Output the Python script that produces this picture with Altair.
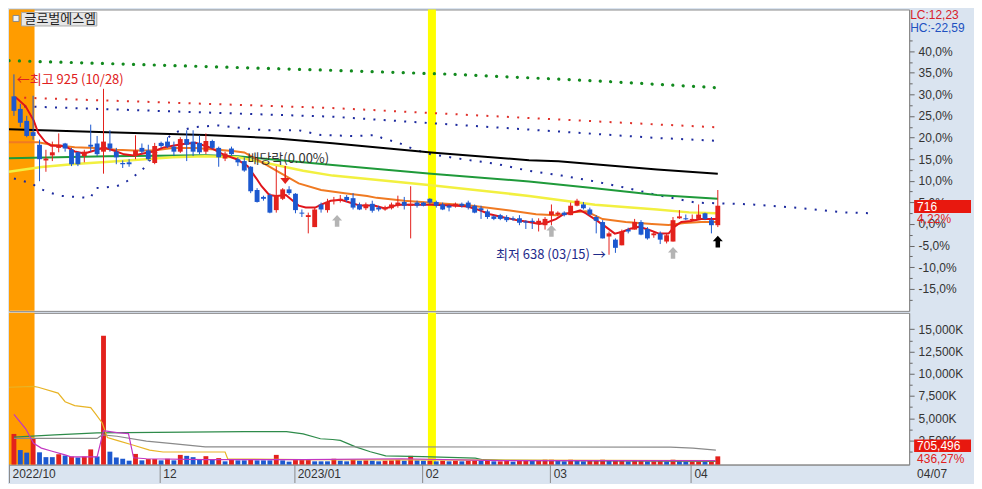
import altair as alt
import pandas as pd

# ---------------- layout ----------------
W, H1, H2 = 902, 302, 152
XS, YE = 18, 64
BASE = 687
X_DOM = [-0.77, 139.9]
P_DOM = [548.7, 1028.2]
V_DOM = [-217, 16848]
RED, BLUE = "#e3211c", "#1c58cf"
KR = "Noto Sans CJK KR"
LAT = "Liberation Sans"

# ---------------- data ----------------
opens = [890, 870, 851, 833, 813, 788, 796, 808, 815, 805,
         801, 795, 813, 815, 802, 815, 802, 784, 785, 795,
         808, 804, 784, 816, 818, 810, 802, 822, 818, 816,
         802, 819, 808, 791, 807, 790, 787, 778, 741, 730,
         733, 709, 727, 742, 735, 705, 698, 682, 718, 709,
         724, 725, 730, 728, 718, 712, 719, 713, 710, 712,
         716, 722, 716, 721, 721, 727, 722, 718, 716, 715,
         719, 721, 716, 712, 707, 699, 701, 698, 696, 696,
         691, 692, 687, 685, 701, 702, 705, 701, 716, 718,
         710, 698, 690, 667, 662, 653, 678, 678, 690, 679,
         669, 672, 659, 659, 696, 696, 693, 695, 704, 693,
         685]
highs = [925, 878, 859, 891, 821, 805, 818, 831, 816, 808,
         802, 805, 845, 827, 902, 836, 808, 788, 790, 828,
         815, 813, 816, 818, 825, 818, 825, 836, 836, 828,
         831, 821, 810, 802, 810, 793, 793, 779, 744, 732,
         736, 779, 744, 747, 736, 710, 705, 713, 721, 727,
         730, 733, 733, 736, 721, 721, 724, 716, 716, 721,
         732, 730, 747, 724, 722, 728, 724, 721, 718, 721,
         721, 724, 718, 716, 710, 701, 703, 701, 699, 701,
         693, 696, 696, 698, 718, 707, 707, 721, 727, 722,
         713, 701, 693, 675, 664, 678, 681, 695, 693, 682,
         675, 675, 672, 698, 709, 702, 702, 718, 705, 698,
         741]
lows = [859, 841, 825, 821, 755, 770, 787, 801, 802, 779,
        779, 785, 802, 795, 767, 802, 782, 776, 778, 790,
        799, 787, 782, 808, 808, 795, 800, 787, 795, 798,
        798, 806, 778, 787, 796, 779, 770, 736, 721, 724,
        704, 705, 725, 733, 704, 698, 672, 682, 705, 705,
        718, 721, 722, 710, 709, 709, 705, 707, 708, 710,
        713, 710, 664, 713, 715, 718, 713, 709, 707, 713,
        713, 710, 704, 695, 695, 693, 693, 690, 692, 685,
        679, 679, 675, 678, 685, 699, 699, 701, 715, 710,
        700, 672, 664, 638, 641, 653, 672, 678, 669, 662,
        665, 655, 656, 659, 695, 693, 692, 695, 693, 672,
        682]
closes = [867, 848, 827, 827, 790, 791, 801, 813, 807, 782,
          782, 802, 810, 798, 818, 807, 793, 782, 782, 804,
          802, 790, 811, 811, 810, 802, 822, 813, 802, 801,
          819, 808, 793, 799, 798, 785, 772, 739, 722, 727,
          705, 733, 742, 736, 709, 704, 701, 710, 710, 722,
          725, 727, 725, 713, 710, 718, 708, 710, 713, 718,
          721, 716, 719, 716, 716, 721, 716, 710, 713, 719,
          716, 713, 705, 709, 698, 695, 695, 693, 694, 689,
          689, 690, 692, 695, 707, 705, 701, 716, 724, 712,
          702, 692, 664, 672, 649, 675, 675, 690, 670, 664,
          672, 662, 669, 693, 699, 695, 695, 702, 695, 685,
          716]
volumes = [3225, 1413, 1123, 2754, 1160, 616, 616, 942, 797, 688,
           580, 688, 1486, 688, 14272, 1232, 580, 435, 217, 978,
           253, 399, 399, 253, 435, 253, 870, 761, 616, 399,
           725, 399, 507, 145, 326, 253, 253, 399, 253, 253,
           253, 870, 253, 109, 326, 326, 399, 145, 145, 145,
           435, 217, 145, 326, 217, 253, 217, 145, 217, 253,
           326, 217, 760, 253, 217, 217, 145, 217, 145, 217,
           145, 217, 253, 217, 253, 145, 145, 217, 109, 217,
           253, 217, 253, 326, 326, 253, 145, 326, 253, 145,
           217, 253, 326, 217, 253, 253, 145, 217, 217, 145,
           145, 217, 145, 326, 217, 145, 145, 253, 217, 253,
           705]
vol_up_first = ["up", "down", "down", "up", "down", "down", "down", "up", "down", "up",
                "down", "up", "up", "down", "up", "down", "down", "down", "down", "up",
                "down", "up", "up", "down", "up", "down", "up", "down", "down", "down",
                "up", "down", "up", "down", "up", "down", "down", "up", "down", "down",
                "down", "up", "down", "down", "up", "up", "up", "down", "down", "down",
                "up"]

# moving-average / envelope lines: (day index, price)
ma5 = [(0.3, 888), (1.8, 874.5), (3.1, 851.5), (3.8, 831.5), (4.9, 817.6), (5.8, 811.5), (7.4, 811.5),
       (8.4, 808.4), (9.5, 802.3), (11.0, 799.2), (12.6, 803.8), (14.1, 808.4), (15.6, 803.8), (17.2, 797.7),
       (18.7, 796.1), (20.2, 799.2), (21.8, 802.3), (23.3, 808.4), (24.8, 811.5), (26.8, 814.6), (28.4, 816.1),
       (30.7, 808.4), (32.7, 797.7), (34.8, 790.0), (36.5, 779.2), (37.9, 759.2), (38.7, 747.0), (39.9, 733.1),
       (41.0, 731.6), (42.5, 733.1), (43.4, 725.4), (44.5, 716.2), (45.6, 713.1), (47.1, 713.1), (48.0, 717.7),
       (49.5, 723.9), (51.1, 725.4), (52.6, 720.8), (54.1, 716.2), (56.3, 716.2), (58.0, 711.6), (60.1, 717.7),
       (62.1, 717.7), (65.2, 717.7), (68.7, 716.2), (70.9, 714.7), (72.4, 710.1), (74.4, 702.4), (76.4, 697.8),
       (78.5, 693.1), (80.5, 690.1), (82.1, 687), (83.1, 688.5), (84.7, 694.7), (85.9, 702.4), (87.4, 705.4),
       (88.5, 708.5), (89.4, 703.9), (91.0, 693.1), (92.5, 682.4), (93.9, 671.6), (95.1, 674.7), (96.3, 679.3),
       (97.7, 682.4), (99.2, 677.8), (100.8, 671.6), (102.3, 671.6), (103.2, 682.4), (104.3, 690.1),
       (105.8, 691.6), (107.4, 694.7), (108.9, 694.7), (110, 694.7)]
ma20 = [(-0.77, 817), (3.8, 817), (5.8, 813), (9.5, 809), (12.6, 808), (16.1, 805), (18.7, 804), (21.8, 804),
        (24.8, 808), (28.4, 808), (34.2, 803), (36.0, 800.7), (37.9, 790), (41.0, 772), (44.5, 751.6),
        (48.0, 741), (51.7, 736), (55.2, 731.6), (56.7, 728.5), (61.0, 723.9), (71.3, 716.2), (77.5, 708.5),
        (81.6, 702.4), (84.7, 700.8), (87.4, 705.4), (89.4, 707), (92.0, 694.7), (95.6, 690.1), (99.7, 687),
        (102.3, 685.5), (104.8, 688.5), (107.4, 690.1), (110, 690.1)]
ma60 = [(-0.77, 770), (4.3, 777.7), (9.5, 782.3), (16.1, 786.9), (24.8, 793.1), (29.9, 794.6), (35.0, 793.1),
        (40.2, 782.3), (45.2, 771.5), (49.8, 763.9), (65.2, 748.5), (80.5, 731.6), (90.8, 717.7),
        (100.5, 710.1), (105.5, 705.4), (109.7, 703.9)]
ma120 = [(-0.77, 791.5), (14.6, 794.6), (29.9, 796.1), (35.0, 794.6), (49.8, 780.8), (65.2, 766.9),
         (80.5, 754.6), (90.8, 743.9), (100.5, 733.1), (110, 727)]
ma240 = [(-0.77, 837.6), (14.6, 833), (29.9, 828.4), (40.2, 823.8), (49.8, 815.3), (65.2, 800.7),
         (80.5, 788.4), (85.1, 786.9), (100.5, 773.8), (110, 766.9)]
dot_green = [(-0.77, 946.8), (49.8, 931.4), (68.3, 925.2), (91.3, 914.4), (110, 903.7)]
dot_red = [(0, 888.3), (49.8, 871.4), (100.5, 845.3), (110, 840.7)]
dot_blue_up = [(0, 874.5), (49.8, 857.6), (100.5, 823.8), (110, 819.2)]
dot_blue_lo = [(0, 759.2), (2.8, 751.6), (3.8, 743.9), (5.8, 736.2), (7.4, 731.6), (11.5, 728.5), (12.0, 728.5),
               (12.7, 743.9), (16.1, 747.0), (17.6, 754.6), (18.7, 762.3), (20.2, 774.6), (22.2, 800.7),
               (23.8, 820.7), (24.8, 831.5), (27.9, 840.7), (31.9, 843.8), (36.0, 839.2), (39.1, 836.1),
               (44.5, 836.1), (48.0, 828.4), (53.2, 826.9), (56.7, 828.4), (57.5, 823.8), (60.1, 816.1),
               (62.6, 805.3), (65.2, 797.7), (70.2, 790.0), (75.5, 782.3), (80.5, 771.5), (85.6, 763.9),
               (90.8, 754.6), (95.9, 743.9), (100.5, 733.1), (106.6, 720.8), (112.3, 719.3), (115.8, 717.7),
               (121.9, 713.1), (129.6, 705.4), (134.2, 703.9)]

# volume moving averages (day index, K shares)
vma_mag = [(0, 5435), (1.84, 3805), (3.07, 2174), (4.29, 1631), (5.83, 1304), (7.98, 870), (8.9, 652),
           (13, 652), (14, 3587), (16.1, 3370), (17.9, 3261), (18.7, 544), (20.7, 435), (29.9, 326),
           (45.2, 326), (60.6, 435), (75.9, 217), (91.3, 217), (109.7, 217)]
vma_yel = [(-0.77, 8479), (3.07, 8587), (3.8, 8479), (6.9, 7826), (8.0, 6848), (9.5, 6413), (12.0, 6196),
           (12.7, 5544), (13.8, 4457), (14.6, 2826), (16.1, 2500), (18.7, 1957), (21.2, 1413), (23.3, 1196),
           (33.0, 1196), (33.4, 435), (45.2, 326), (109.7, 217)]
vma_gray = [(0, 2718), (13, 2718), (13.8, 3120), (16.1, 2967), (20.7, 2424), (24.8, 2141), (29.9, 1772),
            (49.8, 1772), (102.6, 1739), (106.1, 1631), (109.7, 1413)]
vma_green = [(0, 2859), (6.4, 3120), (13, 3337), (36, 3478), (42.6, 3478), (45.2, 3228), (47.9, 2685),
             (49.8, 2600), (51.0, 2500), (53.4, 1772), (55.7, 1228), (58.1, 761), (63.9, 685), (72.1, 511),
             (73.3, 326), (76.8, 250), (109.7, 141)]

month_idx = [-0.77, 22.8, 43.8, 63.8, 83.8, 105.8]
month_labels = ["2022/10", "12", "2023/01", "02", "03", "04"]
pct_ticks = [k / 2 for k in range(-35, 86, 5)]
vol_ticks = [1250 * k for k in range(1, 13)]

# ---------------- frames ----------------
n = len(opens)
cd = pd.DataFrame({"i": list(range(n)), "o": opens, "h": highs, "l": lows, "c": closes})
cd["dir"] = ["up" if c >= o else "down" for o, c in zip(opens, closes)]
cd["top"] = cd[["o", "c"]].max(axis=1)
cd["bot"] = cd[["o", "c"]].min(axis=1)
cd.loc[cd["top"] - cd["bot"] < 1.6, "bot"] = cd["top"] - 1.6
cd["xl"] = cd["i"] - 0.38
cd["xr"] = cd["i"] + 0.38

vdirs = list(vol_up_first)
for k in range(len(vol_up_first), n):
    vdirs.append("up" if volumes[k] >= volumes[k - 1] else "down")
vd = pd.DataFrame({"i": list(range(n)), "v": volumes, "dir": vdirs})
vd["xl"] = vd["i"] - 0.38
vd["xr"] = vd["i"] + 0.38

XSC = alt.Scale(domain=X_DOM, nice=False, zero=False)
PSC = alt.Scale(domain=P_DOM, nice=False, zero=False)
VSC = alt.Scale(domain=V_DOM, nice=False, zero=False)
CSC = alt.Scale(domain=["up", "down"], range=[RED, BLUE])

P = f"((datum.value/{BASE}-1)*100)"
MAJ = f"abs({P}/5 - round({P}/5)) < 0.01"
PRICE_AX = alt.Axis(
    orient="right", values=[BASE * (1 + t / 100) for t in pct_ticks], title=None, grid=False,
    labelExpr=f"{MAJ} ? (({P}) < -0.01 ? '-' : '') + abs(round({P})) + ',0%' : ''",
    tickSize={"condition": {"test": MAJ, "value": 5}, "value": 3},
    minExtent=YE, maxExtent=YE, labelPadding=4, labelOverlap=False, labelFlush=False,
    labelBound=False, labelFont=LAT, labelFontSize=12, labelColor="#333333", domainColor="#8a8a8a",
    tickColor="#666666")
VOL_AX = alt.Axis(
    orient="right", values=vol_ticks, title=None, grid=False,
    labelExpr="datum.value % 2500 == 0 ? format(datum.value, ',') + 'K' : ''",
    tickSize={"condition": {"test": "datum.value % 2500 == 0", "value": 5}, "value": 3},
    minExtent=YE, maxExtent=YE, labelPadding=4, labelOverlap=False, labelFlush=False,
    labelBound=False, labelFont=LAT, labelFontSize=12, labelColor="#333333", domainColor="#8a8a8a",
    tickColor="#666666")
mid = [(month_idx[k] + month_idx[k + 1]) / 2 for k in range(len(month_idx) - 1)]
expr = f"'{month_labels[-1]}'"
for k in range(len(mid) - 1, -1, -1):
    expr = f"datum.value < {mid[k]} ? '{month_labels[k]}' : ({expr})"
DATE_AX = alt.Axis(
    orient="bottom", values=month_idx, title=None, grid=False, labelExpr=expr,
    tickSize=XS, tickColor="#8a8a8a", domainColor="#8a8a8a", labelAlign="left", labelBaseline="middle",
    labelPadding=-XS / 2, labelOffset=3, minExtent=XS, maxExtent=XS, labelOverlap=False,
    labelFlush=False, labelBound=False, labelFont=LAT, labelFontSize=12, labelColor="#333333")


def X(field, xax):
    return alt.X(f"{field}:Q", scale=XSC, axis=xax)


def Y(field, scale, yax):
    return alt.Y(f"{field}:Q", scale=scale, axis=yax)


def line(pairs, color, width, scale, yax, xax, dash=None, cap="butt"):
    kw = dict(color=color, strokeWidth=width, strokeCap=cap, clip=True)
    if dash:
        kw["strokeDash"] = dash
    df = pd.DataFrame(pairs, columns=["i", "v"])
    return alt.Chart(df).mark_line(**kw).encode(x=X("i", xax), y=Y("v", scale, yax))


def band(x0, x1, color, h, xax):
    df = pd.DataFrame({"a": [x0], "b": [x1]})
    return alt.Chart(df).mark_rect(color=color).encode(
        x=X("a", xax), x2="b:Q", y=alt.value(0), y2=alt.value(h))


def ptext(txt, x, y, color, size=12, font=LAT, align="left"):
    df = pd.DataFrame({"t": [txt]})
    return alt.Chart(df).mark_text(align=align, baseline="middle", font=font, fontSize=size,
                                   color=color).encode(x=alt.value(x), y=alt.value(y), text="t:N")


def prect(x0, x1, y0, y1, fill, stroke=None):
    df = pd.DataFrame({"k": [0]})
    kw = dict(fill=fill)
    if stroke:
        kw.update(stroke=stroke, strokeWidth=1)
    return alt.Chart(df).mark_rect(**kw).encode(
        x=alt.value(x0), x2=alt.value(x1), y=alt.value(y0), y2=alt.value(y1))


def dtext(i, p, txt, color, align, size=13):
    df = pd.DataFrame({"i": [i], "v": [p], "t": [txt]})
    return alt.Chart(df).mark_text(align=align, baseline="middle", font=KR, fontSize=size,
                                   color=color).encode(
        x=X("i", None), y=Y("v", PSC, PRICE_AX), text="t:N")


UP = "M0,-1L0.85,-0.05L0.38,-0.05L0.38,1L-0.38,1L-0.38,-0.05L-0.85,-0.05Z"
DOWN_TRI = "M-1,-0.6L1,-0.6L0,0.6Z"


def sym(pts, shape, color, size):
    df = pd.DataFrame(pts, columns=["i", "v"])
    return alt.Chart(df).mark_point(shape=shape, filled=True, size=size, color=color, opacity=1,
                                    strokeWidth=0).encode(
        x=X("i", None), y=Y("v", PSC, PRICE_AX))


# ---------------- upper (price) panel ----------------
wicks = alt.Chart(cd).mark_rule(strokeWidth=1).encode(
    x=X("i", None), y=Y("l", PSC, PRICE_AX), y2="h:Q",
    color=alt.Color("dir:N", scale=CSC, legend=None))
bodies = alt.Chart(cd).mark_rect().encode(
    x=X("xl", None), x2="xr:Q", y=Y("top", PSC, PRICE_AX), y2="bot:Q",
    color=alt.Color("dir:N", scale=CSC, legend=None))

stem = alt.Chart(pd.DataFrame({"i": [42.4], "a": [779], "b": [757]})).mark_rule(
    color=RED, strokeWidth=1.5).encode(x=X("i", None), y=Y("a", PSC, PRICE_AX), y2="b:Q")


def pl(pairs, color, width, dash=None, cap="butt"):
    return line(pairs, color, width, PSC, PRICE_AX, None, dash, cap)


upper = alt.layer(
    band(-0.77, 3.22, "#ff9c00", H1, None),
    band(64.7, 65.95, "#ffff00", H1, None),
    pl(dot_green, "#128a1e", 3.2, dash=[0.1, 10.3], cap="round"),
    pl(dot_red, "#e0302a", 2, dash=[2, 8.3]),
    pl(dot_blue_up, "#1c2a9e", 2, dash=[2, 8.3]),
    pl(dot_blue_lo, "#1c2a9e", 2, dash=[2, 8.3]),
    pl(ma240, "#000000", 2),
    pl(ma120, "#1f9a3a", 2),
    pl(ma60, "#f2f040", 2.5),
    pl(ma20, "#f07a22", 2),
    pl(ma5, "#e0141a", 2),
    wicks, bodies,
    stem,
    sym([(42.4, 755.5)], DOWN_TRI, RED, 100),
    sym([(50.5, 692), (84, 676), (103, 641)], UP, "#b4b4b4", 140),
    sym([(110, 659)], UP, "#000000", 140),
    dtext(0.45, 916, "←최고 925 (10/28)", "#e02020", "left"),
    dtext(92.5, 638, "최저 638 (03/15) →", "#1e2a8a", "right"),
    dtext(36.5, 790, "배당락(0.00%)", "#333333", "left"),
    prect(4, 10, 6, 12, "#f2f2f2", "#8a8a8a"),
    prect(12.5, 88, 3, 16.5, "#e6e6e6", "#a8a8a8"),
    ptext("글로벌에스엠", 15.5, 10, "#222222", 13, KR),
    ptext("LC:12,23", W + 1, 6, "#d8202a", 12),
    ptext("HC:-22,59", W + 1, 18.5, "#2050c0", 12),
    prect(W + 5, W + 62, 191, 204, "#e8180f"),
    ptext("716", W + 8, 197.5, "#ffffff", 12),
    ptext("4,22%", W + 8, 210, "#e02020", 12),
).properties(width=W, height=H1)

# ---------------- lower (volume) panel ----------------
bars = alt.Chart(vd).mark_rect().encode(
    x=X("xl", DATE_AX), x2="xr:Q",
    y=Y("v", VSC, VOL_AX), y2=alt.value(H2),
    color=alt.Color("dir:N", scale=CSC, legend=None))


def vl(pairs, color):
    return line(pairs, color, 1.2, VSC, VOL_AX, DATE_AX)


lower = alt.layer(
    band(-0.77, 3.22, "#ff9c00", H2, DATE_AX),
    band(64.7, 65.95, "#ffff00", H2, DATE_AX),
    bars,
    vl(vma_green, "#2e8b4a"),
    vl(vma_gray, "#8a8a8a"),
    vl(vma_yel, "#e8b426"),
    vl(vma_mag, "#c236c2"),
    prect(W + 5, W + 62, 127, 139.5, "#e8180f"),
    ptext("705,496", W + 8, 133, "#ffffff", 12),
    ptext("436,27%", W + 8, 146.5, "#e02020", 12),
    ptext("04/07", W + 8, H2 + 9, "#333333", 12),
).properties(width=W, height=H2)

chart = alt.vconcat(upper, lower, spacing=0).properties(
    padding=0, background="#dae4f0"
).configure_view(fill="white", stroke="#8a8a8a", strokeWidth=1)

chart.save("out.html", embed_options={"renderer": "svg", "actions": False})
